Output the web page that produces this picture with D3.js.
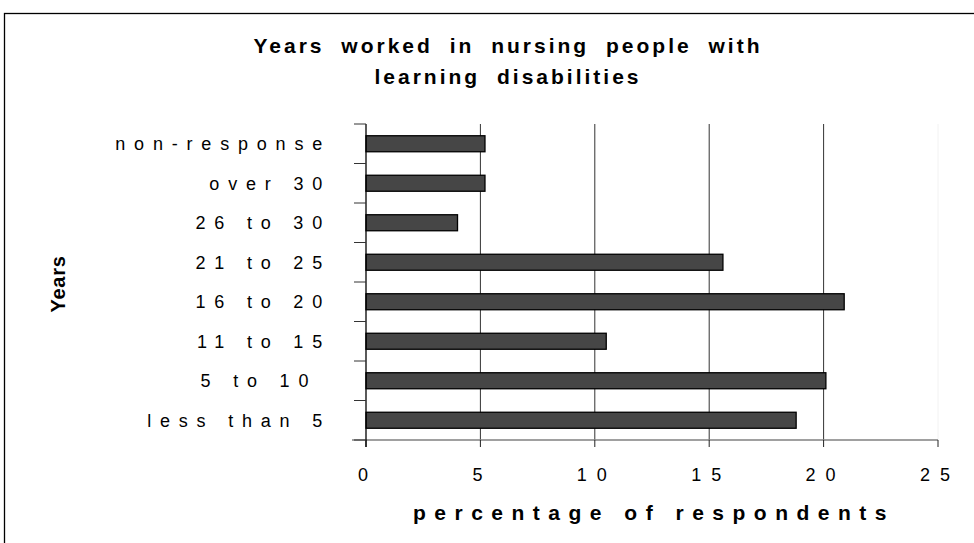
<!DOCTYPE html>
<html>
<head>
<meta charset="utf-8">
<script src="https://cdn.jsdelivr.net/npm/d3@7"></script>
<style>
  html, body { margin: 0; padding: 0; background: #fff; }
  svg { display: block; font-family: "Liberation Sans", Arial, sans-serif; }
</style>
</head>
<body>
<div id="chart"></div>
<script>
// ---- data ----
const categories = ['non-response', 'over 30', '26 to 30', '21 to 25', '16 to 20', '11 to 15', '5 to 10', 'less than 5'];
const values = [5.2, 5.2, 4.0, 15.6, 20.9, 10.5, 20.1, 18.8];
const xTicks = [0, 5, 10, 15, 20, 25];
const titleLines = ['Years worked in nursing people with', 'learning disabilities'];

const W = 974, H = 543;
const plot = { left: 366, right: 938, top: 124, bottom: 440 };

const svg = d3.select('#chart').append('svg').attr('width', W).attr('height', H);

// outer frame (runs off the right and bottom of the picture)
svg.append('rect')
    .attr('x', 4.5).attr('y', 13.5).attr('width', 1100).attr('height', 700)
    .attr('fill', 'none').attr('stroke', '#000').attr('stroke-width', 1.3);

const x = d3.scaleLinear().domain([0, 25]).range([plot.left, plot.right]);
const y = d3.scaleBand().domain(categories).range([plot.top, plot.bottom])
    .paddingInner(0.595).paddingOuter(0.2975);

// vertical gridlines
svg.append('g').selectAll('line').data(xTicks.filter(d => d > 0)).enter().append('line')
    .attr('x1', d => x(d)).attr('x2', d => x(d))
    .attr('y1', plot.top).attr('y2', plot.bottom)
    .attr('stroke', d => d === 25 ? '#f2f2f2' : '#333').attr('stroke-width', 1);

// bars
svg.append('g').selectAll('rect').data(values).enter().append('rect')
    .attr('x', x(0))
    .attr('y', (d, i) => y(categories[i]))
    .attr('width', d => x(d) - x(0))
    .attr('height', y.bandwidth())
    .attr('fill', '#464646')
    .attr('stroke', '#000').attr('stroke-width', 1.3);

// bottom axis
const xAxis = svg.append('g').attr('transform', 'translate(0,' + plot.bottom + ')');
xAxis.append('line').attr('x1', plot.left - 14).attr('x2', plot.right)
    .attr('stroke', '#808080').attr('stroke-width', 1.5);
xAxis.selectAll('line.tick').data(xTicks).enter().append('line').attr('class', 'tick')
    .attr('x1', d => x(d)).attr('x2', d => x(d)).attr('y1', 0).attr('y2', 7)
    .attr('stroke', '#222').attr('stroke-width', 1);
xAxis.selectAll('text').data(xTicks).enter().append('text')
    .attr('x', d => x(d) + 2).attr('y', 41)
    .attr('text-anchor', 'middle')
    .attr('font-size', 18).attr('letter-spacing', 10)
    .attr('fill', '#000')
    .text(d => d);

// left axis
const yAxis = svg.append('g');
yAxis.append('line').attr('x1', plot.left).attr('x2', plot.left)
    .attr('y1', plot.top).attr('y2', plot.bottom + 7)
    .attr('stroke', '#000').attr('stroke-width', 1.3);
const step = y.step();
const bounds = d3.range(categories.length + 1).map(i => plot.top + i * step);
yAxis.selectAll('line.tick').data(bounds).enter().append('line').attr('class', 'tick')
    .attr('x1', plot.left - 12).attr('x2', plot.left)
    .attr('y1', d => d).attr('y2', d => d)
    .attr('stroke', '#333').attr('stroke-width', 1);
yAxis.selectAll('text').data(categories).enter().append('text')
    .attr('x', 331).attr('y', d => y(d) + y.bandwidth() / 2)
    .attr('dy', '0.36em')
    .attr('text-anchor', 'end')
    .attr('font-size', 18).attr('letter-spacing', 8.8)
    .attr('fill', '#000')
    .style('white-space', 'pre')
    .text(d => d === '5 to 10' ? '5 to 10 ' : d);

// title
svg.append('g').selectAll('text').data(titleLines).enter().append('text')
    .attr('x', 508).attr('y', (d, i) => 53 + i * 31)
    .attr('text-anchor', 'middle')
    .attr('font-size', 21).attr('font-weight', 700).attr('letter-spacing', 3)
    .style('word-spacing', '8px')
    .attr('fill', '#000')
    .text(d => d);

// axis titles
svg.append('text')
    .attr('x', 654).attr('y', 520)
    .attr('text-anchor', 'middle')
    .attr('font-size', 21).attr('font-weight', 700).attr('letter-spacing', 8.5)
    .text('percentage of respondents');

svg.append('text')
    .attr('transform', 'translate(65,284) rotate(-90)')
    .attr('text-anchor', 'middle')
    .attr('font-size', 20).attr('font-weight', 700).attr('letter-spacing', 0.7)
    .text('Years');
</script>
</body>
</html>
